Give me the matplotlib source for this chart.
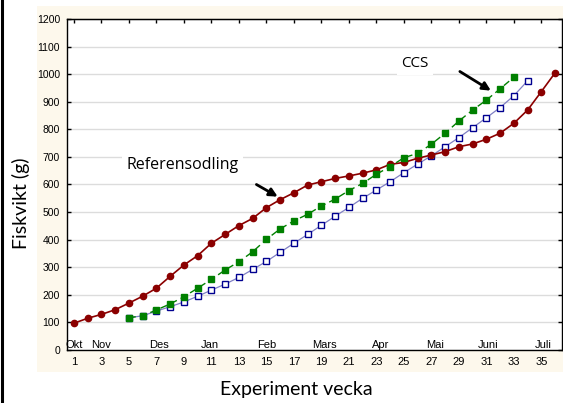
import matplotlib
matplotlib.use("Agg")
import matplotlib.pyplot as plt
from matplotlib.lines import Line2D

# weeks and fish weight (g)
weeks_ref = list(range(1, 37))
ref = [97, 115, 129, 146, 170, 195, 224, 267, 308, 342,
       387, 419, 451, 477, 516, 545, 570, 598, 610, 622,
       631, 641, 653, 673, 680, 695, 707, 719, 737, 747,
       764, 786, 822, 870, 937, 1005]

weeks_ccs = list(range(5, 34))
ccs = [117, 124, 145, 167, 193, 224, 256, 290, 320, 356,
       401, 439, 468, 492, 522, 547, 578, 604, 637, 665,
       697, 713, 746, 786, 830, 870, 906, 947, 989]

weeks_ctrl = list(range(5, 35))
ctrl = [117, 124, 141, 157, 174, 195, 217, 239, 263, 292,
        321, 354, 387, 419, 452, 485, 517, 550, 580, 610,
        643, 674, 704, 737, 770, 806, 842, 879, 922, 976]

months = ["Okt", "Nov", "Des", "Jan", "Feb", "Mars", "Apr", "Mai", "Juni", "Juli"]
month_pos = [1, 3, 7.2, 10.9, 15.05, 19.2, 23.3, 27.3, 31.1, 35.1]

fig = plt.figure(figsize=(5.63, 4.03), dpi=100)
fig.patch.set_facecolor("white")

# cream panel behind the chart
bg = fig.add_axes([37 / 563, 1 - 372 / 403, 1 - 37 / 563, (372 - 6) / 403])
bg.set_facecolor("#fdf8ec")
bg.set_xticks([])
bg.set_yticks([])
for sp in bg.spines.values():
    sp.set_visible(False)
bg.set_zorder(0)

# black border on the left edge
fig.lines.append(Line2D([1.5 / 563, 1.5 / 563], [0, 1], transform=fig.transFigure,
                        color="black", lw=2.2))

ax = fig.add_axes([67 / 563, 1 - 350 / 403, (562 - 67) / 563, (350 - 19) / 403])
ax.set_zorder(1)
ax.set_facecolor("white")

ax.plot(weeks_ref, ref, color="#8b0000", lw=1.2, marker="o", ms=4.5,
        mfc="#8b0000", mec="#8b0000", zorder=4)
ax.plot(weeks_ccs, ccs, color="#008000", lw=1.0, ls=(0, (5, 3)), marker="s", ms=4.6,
        mfc="#008000", mec="#008000", zorder=4)
ax.plot(weeks_ctrl, ctrl, color="#8080c4", lw=0.9, marker="s", ms=4.6,
        mfc="white", mec="#000090", mew=1.0, zorder=3)

ax.set_xlim(0.5, 36.5)
ax.set_ylim(0, 1200)
ax.set_yticks(range(0, 1300, 100))
ax.set_xticks(range(1, 37, 2))
ax.set_xticks(range(1, 36, 4), minor=True)
ax.grid(axis="y", color="#dcdcdc", lw=1.0, zorder=0)

ax.tick_params(axis="y", direction="in", length=3, width=1, right=True,
               labelsize=7.5, pad=5)
ax.tick_params(axis="x", which="major", direction="in", length=0, top=False,
               labelsize=8, pad=5)
ax.tick_params(axis="x", which="minor", direction="in", length=3, width=1)
for t in ax.get_xticklabels() + ax.get_yticklabels():
    t.set_family("Liberation Sans")

# ticks on the top edge
sec = ax.secondary_xaxis("top")
sec.set_xticks(range(1, 37, 2))
sec.tick_params(direction="in", length=3, width=1, labeltop=False)

for sp in ax.spines.values():
    sp.set_linewidth(1.0)

for name, pos in zip(months, month_pos):
    ax.text(pos, 8, name, ha="center", va="baseline", fontsize=8,
            family="Liberation Sans", zorder=5)

ax.text(8.9, 671, "Referensodling", ha="center", va="center", fontsize=11.5,
        family="Open Sans", zorder=2,
        bbox=dict(facecolor="white", edgecolor="none", pad=3))
ax.annotate("", xy=(16.0, 551), xytext=(14.1, 605),
            arrowprops=dict(arrowstyle="-|>", color="black", lw=2.0,
                            mutation_scale=12), zorder=6)
ax.text(25.8, 1040, "CCS", ha="center", va="center", fontsize=11,
        family="Open Sans", zorder=2,
        bbox=dict(facecolor="white", edgecolor="none", pad=3))
ax.annotate("", xy=(31.5, 935), xytext=(28.9, 1015),
            arrowprops=dict(arrowstyle="-|>", color="black", lw=2.0,
                            mutation_scale=12), zorder=6)

fig.text(20.5 / 563, 1 - 203 / 403, "Fiskvikt (g)", rotation=90, ha="center",
         va="center", fontsize=14, family="Lato")
fig.text(296 / 563, 1 - 390 / 403, "Experiment vecka", ha="center",
         va="center", fontsize=14, family="Lato")

fig.savefig("out.png", dpi=100)
